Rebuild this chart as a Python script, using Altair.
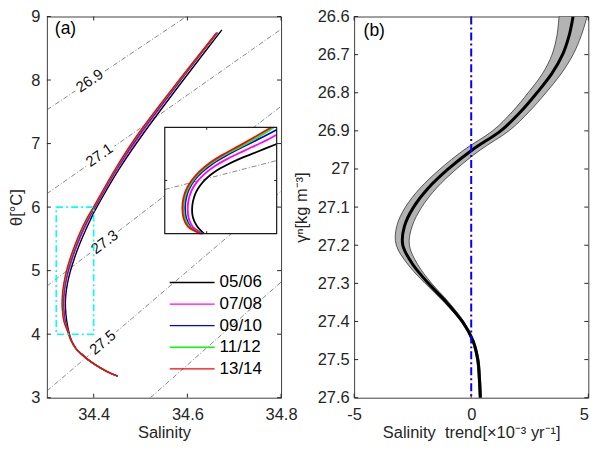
import altair as alt
import pandas as pd

# ---------------- panel (a): theta-S curves ----------------
SERIES = ["05/06", "07/08", "09/10", "11/12", "13/14"]
COLORS = ["#000000", "#ff00ff", "#0000ff", "#00ff00", "#ff0000"]

THETA_LEVELS = [3.34, 3.42, 3.51, 3.60, 3.69, 3.78, 3.90, 4.02, 4.20, 4.40, 4.60, 4.80,
                5.00, 5.20, 5.40, 5.60, 5.80, 6.00, 6.60, 7.17, 7.93]
THETA_0506 = THETA_LEVELS + [8.79]
THETA_0708 = THETA_LEVELS + [8.75]
THETA_0910 = THETA_LEVELS + [8.745]
THETA_1112 = THETA_LEVELS + [8.745]
THETA_1314 = THETA_LEVELS + [8.74]

SAL_0506 = [34.4509, 34.4264, 34.4053, 34.3877, 34.3737, 34.3617, 34.3527, 34.3475, 34.3425, 34.3398, 34.3402, 34.3440,
            34.3505, 34.3590, 34.3690, 34.3805, 34.3930, 34.4066, 34.4544, 34.5071, 34.5840, 34.6736]
SAL_0708 = [34.4510, 34.4265, 34.4054, 34.3877, 34.3736, 34.3614, 34.3521, 34.3466, 34.3398, 34.3367, 34.3370, 34.3405,
            34.3467, 34.3550, 34.3648, 34.3761, 34.3889, 34.4034, 34.4505, 34.5025, 34.5790, 34.6650]
SAL_0910 = [34.4511, 34.4266, 34.4055, 34.3878, 34.3735, 34.3612, 34.3518, 34.3461, 34.3383, 34.3349, 34.3352, 34.3385,
            34.3446, 34.3527, 34.3625, 34.3737, 34.3866, 34.4016, 34.4482, 34.4995, 34.5775, 34.6630]
SAL_1112 = [34.4511, 34.4267, 34.4055, 34.3878, 34.3734, 34.3611, 34.3516, 34.3458, 34.3374, 34.3339, 34.3341, 34.3374,
            34.3433, 34.3514, 34.3611, 34.3723, 34.3852, 34.4006, 34.4470, 34.4978, 34.5760, 34.6625]
SAL_1314 = [34.4512, 34.4268, 34.4056, 34.3878, 34.3734, 34.3610, 34.3515, 34.3456, 34.3365, 34.3328, 34.3330, 34.3362,
            34.3420, 34.3500, 34.3597, 34.3708, 34.3838, 34.3995, 34.4460, 34.4966, 34.5750, 34.6620]

# inset (zoom of 34.32-34.40, 4-6 degC)
INSET_T_0506 = [4.000, 4.144, 4.300, 4.456, 4.612, 4.769, 4.912, 5.050, 5.175, 5.287, 5.406, 5.531, 5.687]
INSET_S_0506 = [34.3480, 34.3430, 34.3402, 34.3395, 34.3402, 34.3421, 34.3454, 34.3502, 34.3563, 34.3639, 34.3734, 34.3853, 34.4000]
INSET_T_0708 = [4.000, 4.125, 4.269, 4.456, 4.644, 4.812, 4.975, 5.125, 5.268, 5.412, 5.562, 5.724, 5.862]
INSET_S_0708 = [34.3473, 34.3402, 34.3373, 34.3364, 34.3371, 34.3392, 34.3430, 34.3485, 34.3556, 34.3651, 34.3770, 34.3901, 34.4000]
INSET_T_0910 = [4.000, 4.125, 4.287, 4.475, 4.662, 4.831, 5.000, 5.156, 5.312, 5.462, 5.625, 5.787, 5.956]
INSET_S_0910 = [34.3466, 34.3385, 34.3354, 34.3345, 34.3352, 34.3373, 34.3411, 34.3466, 34.3540, 34.3635, 34.3753, 34.3877, 34.4000]
INSET_T_1112 = [4.000, 4.125, 4.287, 4.475, 4.662, 4.831, 5.000, 5.162, 5.318, 5.475, 5.637, 5.812, 6.000]
INSET_S_1112 = [34.3461, 34.3378, 34.3345, 34.3335, 34.3342, 34.3364, 34.3402, 34.3456, 34.3530, 34.3625, 34.3744, 34.3867, 34.3981]
INSET_T_1314 = [4.000, 4.125, 4.287, 4.475, 4.662, 4.831, 5.000, 5.168, 5.331, 5.487, 5.656, 5.831, 6.000]
INSET_S_1314 = [34.3456, 34.3369, 34.3335, 34.3326, 34.3333, 34.3354, 34.3392, 34.3447, 34.3521, 34.3616, 34.3734, 34.3853, 34.3962]

# density contours (straight segments across the panel)
CONTOUR_LEVEL = ["26.9", "27.1", "27.3", "27.5", "27.7"]
CONTOUR_S0 = [34.3, 34.3, 34.3, 34.3, 34.521]
CONTOUR_T0 = [7.53, 6.21, 4.756, 3.105, 3.0]
CONTOUR_S1 = [34.598, 34.8, 34.8, 34.8, 34.8]
CONTOUR_T1 = [9.0, 8.80, 7.586, 6.25, 4.82]

LABEL_TEXT = ["26.9", "27.1", "27.3", "27.5"]
LABEL_S = [34.391, 34.412, 34.423, 34.419]
LABEL_T = [7.99, 6.82, 5.452, 3.87]
LABEL_ANGLE = [326, 325, 323, 320]

INSET_CONTOUR_S = [34.32, 34.40]
INSET_CONTOUR_T = [4.831, 5.375]

BOX_S = [34.32, 34.40]
BOX_T = [4.0, 6.0]

A_XTICKS = [34.4, 34.6, 34.8]
A_YTICKS = [3, 4, 5, 6, 7, 8, 9]
INSET_XTICK = [34.35]
INSET_YTICK = [5.0]

# ---------------- panel (b): salinity trend ----------------
GAMMA = [26.60, 26.65, 26.70, 26.75, 26.80, 26.85, 26.90, 26.95, 27.00, 27.05, 27.10,
         27.15, 27.20, 27.25, 27.30, 27.35, 27.40, 27.45, 27.50, 27.55, 27.60]
TREND = [4.35, 4.18, 3.90, 3.44, 2.81, 2.11, 1.26, 0.04, -0.98, -1.83, -2.46,
         -2.85, -2.92, -2.50, -1.83, -1.05, -0.38, 0.07, 0.28, 0.35, 0.39]
UPPER = [4.95, 4.70, 4.35, 3.84, 3.19, 2.47, 1.61, 0.39, -0.63, -1.48, -2.11,
         -2.52, -2.64, -2.29, -1.69, -0.95, -0.32, 0.12, 0.33, 0.40, 0.44]
LOWER = [3.75, 3.66, 3.45, 3.04, 2.43, 1.75, 0.91, -0.31, -1.33, -2.18, -2.81,
         -3.18, -3.20, -2.71, -1.97, -1.15, -0.44, 0.02, 0.23, 0.30, 0.34]
ZERO = [0.0]
B_XTICKS = [-5, 0, 5]
B_YTICKS = [26.6, 26.7, 26.8, 26.9, 27.0, 27.1, 27.2, 27.3, 27.4, 27.5, 27.6]

# ---------------- layout constants ----------------
W, H = 235, 382.5
GAP = 73.3
FONT = "Liberation Sans"
INK = "#262626"
FS = 16.5
TICK = 4


def axis(title, values, fmt=None, label_pad=9, title_pad=1.5, expr=None, align=None):
    kw = dict(title=title, values=values, ticks=False, tickSize=0, domain=False, grid=False,
              labelFont=FONT, labelFontSize=FS, labelColor=INK, titleFont=FONT,
              titleFontSize=FS, titleFontWeight="normal", titleColor=INK,
              labelPadding=label_pad, titlePadding=title_pad, labelFlush=False,
              labelOverlap=False)
    if fmt:
        kw["format"] = fmt
    if expr:
        kw["labelExpr"] = expr
    if align:
        kw["labelAlign"] = align
    return alt.Axis(**kw)


def curves(thetas, sals):
    rows = []
    for name, th, sa in zip(SERIES, thetas, sals):
        for i, (t, s) in enumerate(zip(th, sa)):
            rows.append({"series": name, "i": i, "T": t, "S": s})
    return pd.DataFrame(rows)


main_df = curves([THETA_0506, THETA_0708, THETA_0910, THETA_1112, THETA_1314],
                 [SAL_0506, SAL_0708, SAL_0910, SAL_1112, SAL_1314])
inset_df = curves([INSET_T_0506, INSET_T_0708, INSET_T_0910, INSET_T_1112, INSET_T_1314],
                  [INSET_S_0506, INSET_S_0708, INSET_S_0910, INSET_S_1112, INSET_S_1314])

contour_rows = []
for lev, s0, t0, s1, t1 in zip(CONTOUR_LEVEL, CONTOUR_S0, CONTOUR_T0, CONTOUR_S1, CONTOUR_T1):
    contour_rows.append({"c": lev, "S": s0, "T": t0})
    contour_rows.append({"c": lev, "S": s1, "T": t1})
contour_df = pd.DataFrame(contour_rows)
label_df = pd.DataFrame({"txt": LABEL_TEXT, "S": LABEL_S, "T": LABEL_T, "a": LABEL_ANGLE})
box_df = pd.DataFrame({"S0": [BOX_S[0]], "S1": [BOX_S[1]], "T0": [BOX_T[0]], "T1": [BOX_T[1]]})
inset_contour_df = pd.DataFrame({"S": INSET_CONTOUR_S, "T": INSET_CONTOUR_T})

COLOR = alt.Color("series:N", scale=alt.Scale(domain=SERIES, range=COLORS), legend=None)

# ---- panel (a) main layers
sx = alt.Scale(domain=[34.3, 34.8], nice=False, zero=False)
sy = alt.Scale(domain=[3, 9], nice=False, zero=False)
ax_x = axis("Salinity", A_XTICKS)
ax_y = axis("θ[°C]", A_YTICKS, fmt="d", label_pad=7, title_pad=6)


def AX(f):
    return alt.X(f, type="quantitative", scale=sx, axis=ax_x)


def AY(f):
    return alt.Y(f, type="quantitative", scale=sy, axis=ax_y)


contours = alt.Chart(contour_df).mark_line(
    color="#555555", strokeWidth=0.7, strokeDash=[5, 2, 1, 2], clip=True
).encode(x=AX("S"), y=AY("T"), detail="c:N")

halo = alt.Chart(label_df).mark_text(
    font=FONT, fontSize=15, stroke="white", strokeWidth=7, color="white"
).encode(x=AX("S"), y=AY("T"), text="txt:N", angle=alt.Angle("a:Q", scale=None))

ctext = alt.Chart(label_df).mark_text(font=FONT, fontSize=15, color="#111111").encode(
    x=AX("S"), y=AY("T"), text="txt:N", angle=alt.Angle("a:Q", scale=None))

main_lines = alt.Chart(main_df).mark_line(strokeWidth=1.4, interpolate="cardinal").encode(
    x=AX("S"), y=AY("T"), color=COLOR, order=alt.Order("i:Q"))

cyan_box = alt.Chart(box_df).mark_rect(
    filled=False, color="#00ffff", strokeWidth=1.6, strokeDash=[7, 3, 2, 3]
).encode(x=AX("S0"), x2="S1", y=AY("T0"), y2="T1")

axt = pd.DataFrame({"v": A_XTICKS})
ayt = pd.DataFrame({"v": A_YTICKS})
a_ticks = [
    alt.Chart(axt).mark_rule(color=INK).encode(x=AX("v"), y=alt.value(H), y2=alt.value(H - TICK)),
    alt.Chart(axt).mark_rule(color=INK).encode(x=AX("v"), y=alt.value(0), y2=alt.value(TICK)),
    alt.Chart(ayt).mark_rule(color=INK).encode(y=AY("v"), x=alt.value(0), x2=alt.value(TICK)),
    alt.Chart(ayt).mark_rule(color=INK).encode(y=AY("v"), x=alt.value(W - TICK), x2=alt.value(W)),
]

a_label = alt.Chart(pd.DataFrame({"t": ["(a)"]})).mark_text(
    font=FONT, fontSize=17.5, align="left", baseline="top", color="#000000"
).encode(text="t:N", x=alt.value(8), y=alt.value(4))

main_a = alt.layer(contours, halo, ctext, main_lines, cyan_box, *a_ticks, a_label)

# ---- inset
IX0, IX1, IY0, IY1 = 118.3, 230.6, 111.2, 217.9
isx = alt.Scale(domain=[34.32, 34.40], range=[IX0, IX1], nice=False, zero=False)
isy = alt.Scale(domain=[4, 6], range=[IY1, IY0], nice=False, zero=False)


def IXe(f):
    return alt.X(f, type="quantitative", scale=isx, axis=None)


def IYe(f):
    return alt.Y(f, type="quantitative", scale=isy, axis=None)


inset_bg = alt.Chart(box_df).mark_rect(fill="white", strokeWidth=0).encode(
    x=IXe("S0"), x2="S1", y=IYe("T0"), y2="T1")
inset_contour = alt.Chart(inset_contour_df).mark_line(
    color="#555555", strokeWidth=0.7, strokeDash=[5, 2, 1, 2]).encode(x=IXe("S"), y=IYe("T"))
inset_lines = alt.Chart(inset_df).mark_line(strokeWidth=1.8, interpolate="cardinal").encode(
    x=IXe("S"), y=IYe("T"), color=COLOR, order=alt.Order("i:Q"))
ixt = pd.DataFrame({"v": INSET_XTICK})
iyt = pd.DataFrame({"v": INSET_YTICK})
inset_ticks = [
    alt.Chart(ixt).mark_rule(color=INK).encode(x=IXe("v"), y=alt.value(IY0), y2=alt.value(IY0 + 2.5)),
    alt.Chart(ixt).mark_rule(color=INK).encode(x=IXe("v"), y=alt.value(IY1), y2=alt.value(IY1 - 2.5)),
    alt.Chart(iyt).mark_rule(color=INK).encode(y=IYe("v"), x=alt.value(IX0), x2=alt.value(IX0 + 2.5)),
    alt.Chart(iyt).mark_rule(color=INK).encode(y=IYe("v"), x=alt.value(IX1 - 2.5), x2=alt.value(IX1)),
]
inset_border = alt.Chart(box_df).mark_rect(filled=False, color="#1a1a1a", strokeWidth=1.2).encode(
    x=IXe("S0"), x2="S1", y=IYe("T0"), y2="T1")
inset = alt.layer(inset_bg, inset_contour, inset_lines, *inset_ticks, inset_border)

# ---- legend
leg_df = pd.DataFrame({"series": SERIES})
LY = alt.Y("series:N", scale=alt.Scale(type="point", domain=SERIES, range=[266.9, 353.5], padding=0),
           axis=None)
leg_lines = alt.Chart(leg_df).mark_rule(strokeWidth=1.3).encode(
    y=LY, x=alt.value(123.3), x2=alt.value(168.3), color=COLOR)
leg_text = alt.Chart(leg_df).mark_text(
    font=FONT, fontSize=17, align="left", baseline="middle", color="#000000"
).encode(y=LY, x=alt.value(173.3), text="series:N")
legend = alt.layer(leg_lines, leg_text)

panel_a = alt.layer(main_a, inset, legend).resolve_scale(
    x="independent", y="independent").properties(width=W, height=H)

# ---- panel (b)
b_df = pd.DataFrame({"g": GAMMA, "t": TREND, "lo": LOWER, "hi": UPPER})
bsx = alt.Scale(domain=[-5, 5], nice=False, zero=False)
bsy = alt.Scale(domain=[26.6, 27.6], reverse=True, nice=False, zero=False)
b_ax_x = axis("Salinity\u00a0 trend[×10⁻³ yr⁻¹]", B_XTICKS, expr="replace(datum.label, '−', '-')",
              align={"condition": {"test": "datum.value >= 5", "value": "right"}, "value": "center"})
b_ax_y = axis("γⁿ[kg m⁻³]", B_YTICKS, fmt="~g", label_pad=5, title_pad=8)


def BX(f):
    return alt.X(f, type="quantitative", scale=bsx, axis=b_ax_x)


def BY(f):
    return alt.Y(f, type="quantitative", scale=bsy, axis=b_ax_y)


band = alt.Chart(b_df).mark_area(
    orient="horizontal", interpolate="cardinal", color="#b3b3b3", stroke="#000000",
    strokeWidth=0.6, clip=True
).encode(y=BY("g"), x=BX("lo"), x2="hi")
center = alt.Chart(b_df).mark_line(
    color="#000000", strokeWidth=3, interpolate="cardinal", clip=True
).encode(y=BY("g"), x=BX("t"), order=alt.Order("g:Q"))
zero_line = alt.Chart(pd.DataFrame({"z": ZERO})).mark_rule(
    color="#0000ff", strokeWidth=2, strokeDash=[8, 3, 2, 3]).encode(x=BX("z"))

bxt = pd.DataFrame({"v": B_XTICKS})
byt = pd.DataFrame({"v": B_YTICKS})
b_ticks = [
    alt.Chart(bxt).mark_rule(color=INK).encode(x=BX("v"), y=alt.value(H), y2=alt.value(H - TICK)),
    alt.Chart(bxt).mark_rule(color=INK).encode(x=BX("v"), y=alt.value(0), y2=alt.value(TICK)),
    alt.Chart(byt).mark_rule(color=INK).encode(y=BY("v"), x=alt.value(0), x2=alt.value(TICK)),
    alt.Chart(byt).mark_rule(color=INK).encode(y=BY("v"), x=alt.value(W - TICK), x2=alt.value(W)),
]
b_label = alt.Chart(pd.DataFrame({"t": ["(b)"]})).mark_text(
    font=FONT, fontSize=17.5, align="left", baseline="top", color="#000000"
).encode(text="t:N", x=alt.value(9.5), y=alt.value(6))

panel_b = alt.layer(band, center, zero_line, *b_ticks, b_label).properties(width=W, height=H)

chart = alt.hconcat(panel_a, panel_b, spacing=GAP, bounds="flush").properties(
    padding={"left": 0, "top": -1.2, "right": 1, "bottom": -1}
).configure(font=FONT).configure_view(stroke="#404040", strokeWidth=1)

chart.save("out.html", embed_options={"renderer": "svg", "actions": False})
